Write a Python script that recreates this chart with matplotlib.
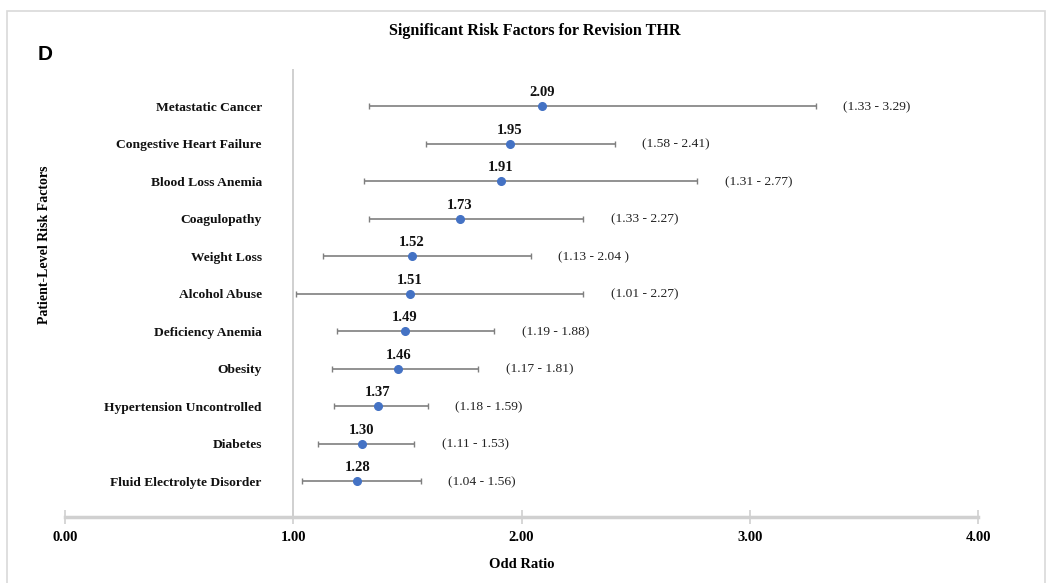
import matplotlib
matplotlib.use("Agg")
import matplotlib.pyplot as plt
from matplotlib.patches import Rectangle

factors = ["Metastatic Cancer", "Congestive Heart Failure", "Blood Loss Anemia",
           "Coagulopathy", "Weight Loss", "Alcohol Abuse", "Deficiency Anemia",
           "Obesity", "Hypertension Uncontrolled", "Diabetes", "Fluid Electrolyte Disorder"]
odds = [2.09, 1.95, 1.91, 1.73, 1.52, 1.51, 1.49, 1.46, 1.37, 1.30, 1.28]
lower = [1.33, 1.58, 1.31, 1.33, 1.13, 1.01, 1.19, 1.17, 1.18, 1.11, 1.04]
upper = [3.29, 2.41, 2.77, 2.27, 2.04, 2.27, 1.88, 1.81, 1.59, 1.53, 1.56]
ci_labels = ["(1.33 - 3.29)", "(1.58 - 2.41)", "(1.31 - 2.77)", "(1.33 - 2.27)",
             "(1.13 - 2.04 )", "(1.01 - 2.27)", "(1.19 - 1.88)", "(1.17 - 1.81)",
             "(1.18 - 1.59)", "(1.11 - 1.53)", "(1.04 - 1.56)"]
xticks = [0, 1, 2, 3, 4]
xtick_labels = ["0.00", "1.00", "2.00", "3.00", "4.00"]

W, H = 1049, 583
fig = plt.figure(figsize=(W / 100, H / 100), dpi=100)
serif = "Liberation Serif"

# outer frame
fig.patches.append(Rectangle((7 / W, -5 / H), (1045 - 7) / W, (572 + 5) / H,
                             transform=fig.transFigure, fill=False,
                             edgecolor="#d9d9d9", lw=1.2))

ax = fig.add_axes([65 / W, (H - 517) / H, (978 - 65) / W, (517 - 69) / H])
n = len(factors)
ys = [n - 1 - i for i in range(n)]

ax.set_xlim(0, 4)
ax.set_ylim(-0.96, n - 1 + 0.99)

ax.axvline(1, color="#c8c8c8", lw=1.2, zorder=0)

xerr = [[o - l for o, l in zip(odds, lower)], [u - o for o, u in zip(odds, upper)]]
ax.errorbar(odds, ys, xerr=xerr, fmt="none", ecolor="#7f7f7f", elinewidth=1.2,
            capsize=2, capthick=1.0, zorder=2)
ax.plot(odds, ys, "o", color="#4472C4", ms=5.5, zorder=3)

for y, o, u, lab, name in zip(ys, odds, upper, ci_labels, factors):
    ax.text(o, y + 0.36, f"{o:.2f}", ha="center", va="center", fontfamily=serif,
            fontweight="bold", fontsize=10.5, color="#111111")
    ax.text(u + 0.12, y - 0.03, lab, ha="left", va="center", fontfamily=serif,
            fontsize=9.7, color="#222222")
    ax.text(0.862, y - 0.05, name, ha="right", va="center", fontfamily=serif,
            fontweight="bold", fontsize=9.7, color="#111111")

ax.set_yticks([])

ax.set_xticks(xticks)
ax.set_xticklabels(xtick_labels, fontfamily=serif, fontweight="bold", fontsize=10.5)
ax.tick_params(axis="x", direction="inout", length=10, width=1.2, color="#cfcfcf", pad=5)

for s in ["top", "right", "left"]:
    ax.spines[s].set_visible(False)
ax.spines["bottom"].set_color("#d0d0d0")
ax.spines["bottom"].set_linewidth(2.5)

ax.set_xlabel("Odd Ratio", fontfamily=serif, fontweight="bold", fontsize=10.5, labelpad=10)
fig.text(45 / W, 1 - 245 / H, "Patient-Level Risk Factors", rotation=90, ha="center",
         va="center", fontfamily=serif, fontweight="bold", fontsize=10)

fig.text(535 / W, 1 - 31 / H, "Significant Risk Factors for Revision THR", ha="center",
         va="center", fontfamily=serif, fontweight="bold", fontsize=11.6)
fig.text(38 / W, 1 - 55 / H, "D", ha="left", va="center", fontfamily="Liberation Sans",
         fontweight="bold", fontsize=15)

fig.savefig("out.png", dpi=100)
